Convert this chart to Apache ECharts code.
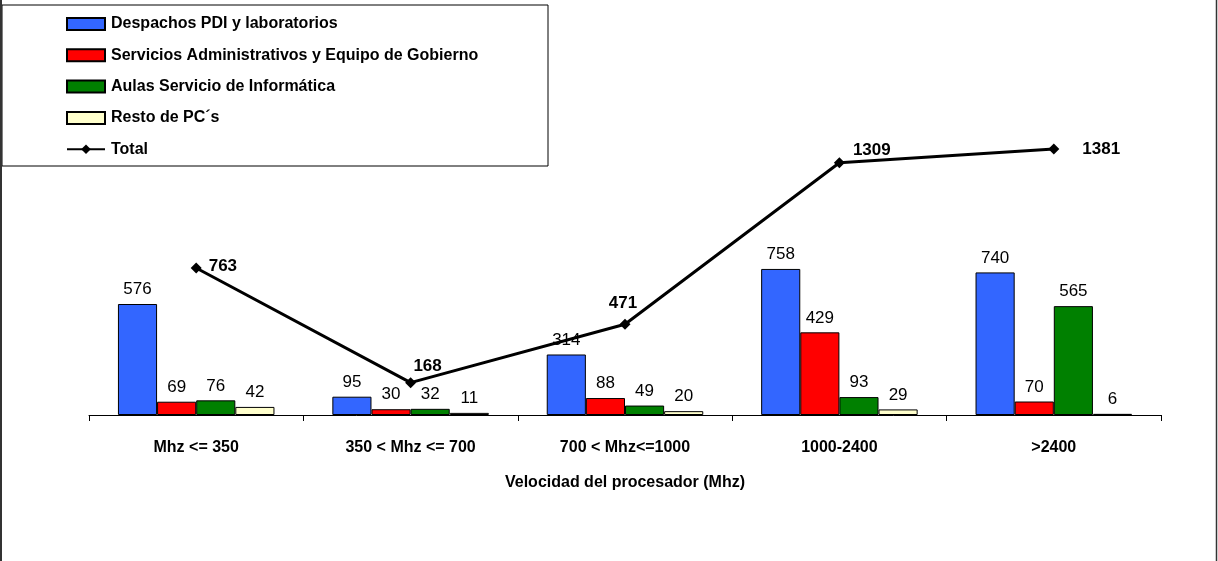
<!DOCTYPE html>
<html>
<head>
<meta charset="utf-8">
<script src="https://cdn.jsdelivr.net/npm/echarts@6/dist/echarts.min.js"></script>
<style>
html,body{margin:0;padding:0;background:#fff;}
#chart{width:1218px;height:561px;}
</style>
</head>
<body>
<div id="chart"></div>
<script>
const categories = ['Mhz <= 350', '350 < Mhz <= 700', '700 < Mhz<=1000', '1000-2400', '>2400'];
const despachos = [576, 95, 314, 758, 740];
const servicios = [69, 30, 88, 429, 70];
const aulas = [76, 32, 49, 93, 565];
const resto = [42, 11, 20, 29, 6];
const total = [763, 168, 471, 1309, 1381];
const seriesNames = ['Despachos PDI y laboratorios', 'Servicios Administrativos y Equipo de Gobierno', 'Aulas Servicio de Informática', 'Resto de PC´s', 'Total'];
const xAxisTitle = 'Velocidad del procesador (Mhz)';

const FONT = '"Liberation Sans", Arial, sans-serif';
const chart = echarts.init(document.getElementById('chart'));

function barSeries(name, data, color) {
  return {
    name: name, type: 'bar', data: data,
    barGap: '0%', barCategoryGap: '27%',
    itemStyle: { color: color, borderColor: '#000', borderWidth: 1 },
    label: { show: true, position: 'top', distance: 6, color: '#000', fontFamily: FONT, fontSize: 17 },
    emphasis: { disabled: true }
  };
}

const totalLabelPos = [
  { position: 'right', offset: [1, -2] },
  { position: 'top', offset: [17, 4] },
  { position: 'top', offset: [-2, -1] },
  { position: 'right', offset: [2, -12] },
  { position: 'right', offset: [17, 0] }
];

chart.setOption({
  animation: false,
  backgroundColor: '#fff',
  grid: { left: 89, right: 57, top: 106.7, bottom: 146, containLabel: false },
  legend: {
    orient: 'vertical', left: 61, top: 11,
    itemWidth: 38, itemHeight: 12, itemGap: 15.3,
    textStyle: { fontFamily: FONT, fontWeight: 'bold', fontSize: 16, color: '#000', padding: [0, 0, 0, 1] },
    data: seriesNames.map((n, i) => (i < 4 ? { name: n, icon: 'rect' } : { name: n }))
  },
  graphic: [
    { type: 'rect', shape: { x: 2, y: 5, width: 546, height: 161 }, style: { fill: 'none', stroke: '#000', lineWidth: 1 }, z: 0 },
    { type: 'line', shape: { x1: 1, y1: 0, x2: 1, y2: 561 }, style: { stroke: '#333', lineWidth: 2 } },
    { type: 'line', shape: { x1: 1216.5, y1: 0, x2: 1216.5, y2: 561 }, style: { stroke: '#333', lineWidth: 1.5 } }
  ],
  xAxis: {
    type: 'category', data: categories,
    name: xAxisTitle, nameLocation: 'middle', nameGap: 60,
    nameTextStyle: { fontFamily: FONT, fontWeight: 'bold', fontSize: 16, color: '#000' },
    axisLine: { lineStyle: { color: '#000', width: 1 } },
    axisTick: { show: true, length: 6, lineStyle: { color: '#000' } },
    axisLabel: { fontFamily: FONT, fontWeight: 'bold', fontSize: 16, color: '#000', margin: 25 }
  },
  yAxis: { type: 'value', min: 0, max: 1600, show: false, splitLine: { show: false } },
  series: [
    barSeries(seriesNames[0], despachos, '#3366FF'),
    barSeries(seriesNames[1], servicios, '#FF0000'),
    barSeries(seriesNames[2], aulas, '#008000'),
    barSeries(seriesNames[3], resto, '#FFFFCC'),
    {
      name: seriesNames[4], type: 'line',
      data: total.map((v, i) => ({ value: v, label: totalLabelPos[i] })),
      symbol: 'diamond', symbolSize: 11,
      lineStyle: { color: '#000', width: 3 },
      itemStyle: { color: '#000' },
      label: { show: true, color: '#000', fontFamily: FONT, fontWeight: 'bold', fontSize: 17, distance: 6 },
      emphasis: { disabled: true }, z: 5
    }
  ]
});
</script>
</body>
</html>
